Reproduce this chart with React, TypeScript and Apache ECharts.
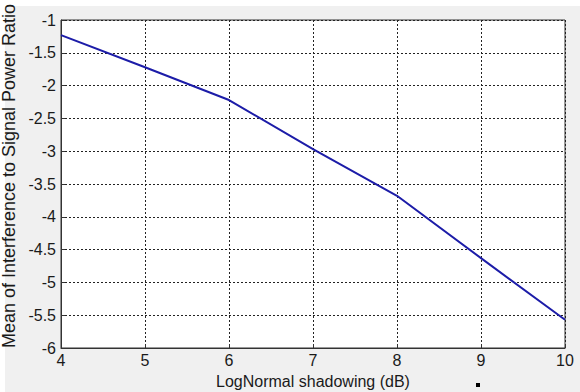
import React, { useEffect, useRef } from "react";
import * as echarts from "echarts";

const shadowingDb = [4, 5, 6, 7, 8, 9, 10];
const meanIsr = [-1.23, -1.72, -2.22, -2.97, -3.68, -4.63, -5.57];
const yTicks = [-6, -5.5, -5, -4.5, -4, -3.5, -3, -2.5, -2, -1.5, -1];

export default function App() {
  const ref = useRef<HTMLDivElement>(null);
  useEffect(() => {
    const chart = echarts.init(ref.current!, null, { renderer: "svg" });
    const font = "'Liberation Sans', Arial, sans-serif";
    chart.setOption({
      animation: false,
      backgroundColor: "#ffffff",
      graphic: [
        { type: "rect", shape: { x: 5, y: 6, width: 575, height: 386 }, style: { fill: "#f0f0f0" }, z: -10 },
        { type: "rect", shape: { x: 476, y: 383, width: 4, height: 4 }, style: { fill: "#000" } },
      ],
      grid: {
        left: 61,
        top: 20,
        right: 15,
        bottom: 44,
        containLabel: false,
        outerBoundsMode: "none",
        show: true,
        backgroundColor: "#ffffff",
        borderColor: "#333333",
        borderWidth: 1,
      },
      xAxis: {
        type: "value",
        min: 4,
        max: 10,
        interval: 1,
        name: "LogNormal shadowing (dB)",
        nameLocation: "middle",
        nameGap: 25,
        nameTextStyle: { fontFamily: font, fontSize: 16, color: "#1a1a1a" },
        axisLine: { show: true, lineStyle: { color: "#333", width: 1 } },
        axisTick: { show: true, inside: true, length: 4, lineStyle: { color: "#333" } },
        axisLabel: { fontFamily: font, fontSize: 16, color: "#1a1a1a", margin: 4 },
        splitLine: { show: true, lineStyle: { type: [2, 2], color: "#222", width: 1 } },
      },
      yAxis: {
        type: "value",
        min: -6,
        max: -1,
        interval: 0.5,
        name: "Mean of Interference to Signal Power Ratio",
        nameLocation: "middle",
        nameGap: 40,
        nameTextStyle: { fontFamily: font, fontSize: 18, color: "#1a1a1a", padding: [0, 0, 0, 16] },
        axisLine: { show: true, lineStyle: { color: "#333", width: 1 } },
        axisTick: { show: true, inside: true, length: 4, lineStyle: { color: "#333" } },
        axisLabel: {
          fontFamily: font,
          fontSize: 16,
          color: "#1a1a1a",
          margin: 5,
          formatter: (v: number) => {
            const t = yTicks.find((x) => Math.abs(x - v) < 1e-9);
            return t === undefined ? "" : String(t);
          },
        },
        splitLine: { show: true, lineStyle: { type: [2, 2], color: "#222", width: 1 } },
      },
      series: [
        {
          type: "line",
          data: shadowingDb.map((x, i) => [x, meanIsr[i]]),
          showSymbol: false,
          lineStyle: { color: "#1c1ca8", width: 2 },
          clip: true,
        },
      ],
    });
    return () => chart.dispose();
  }, []);
  return <div ref={ref} style={{ width: 580, height: 392, position: "absolute", left: 0, top: 0 }} />;
}
